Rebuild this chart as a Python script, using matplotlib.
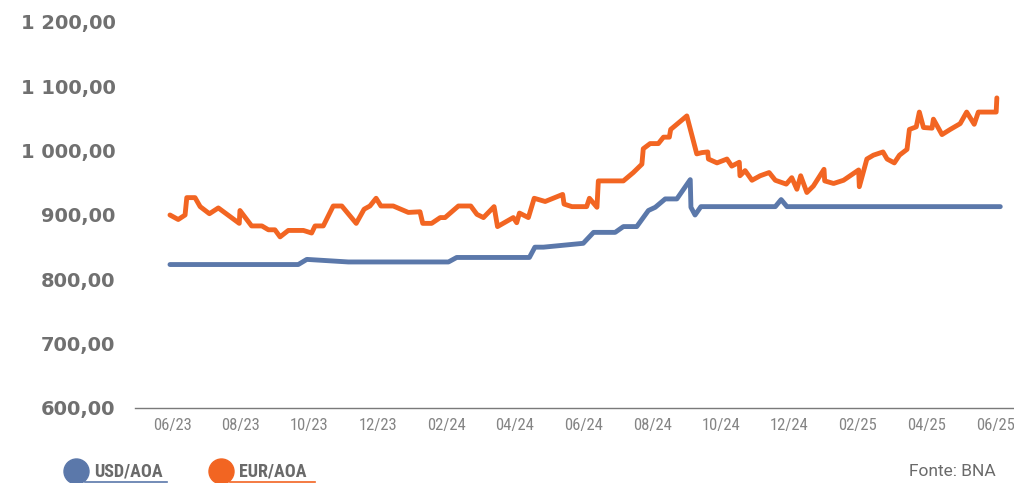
import matplotlib
matplotlib.use("Agg")
import matplotlib.pyplot as plt
from matplotlib.lines import Line2D
from matplotlib.ticker import FuncFormatter
from matplotlib import font_manager

# months since 06/2023
usd_x = [-0.06, 3.68, 3.93, 5.14, 8.06, 8.30, 10.42, 10.58, 10.83, 11.99, 12.29, 12.92,
         13.16, 13.55, 13.89, 14.09, 14.38, 14.72, 15.11, 15.13, 15.25, 15.42, 17.59,
         17.76, 17.93, 24.15]
usd_y = [823, 823, 831, 827, 827, 834, 834, 850, 850, 856, 873, 873,
         882, 882, 907, 912, 925, 925, 955, 912, 900, 913, 913,
         924, 913, 913]

eur_x = [-0.06, 0.18, 0.38, 0.43, 0.67, 0.82, 1.09, 1.35, 1.96, 1.98, 2.32, 2.62, 2.81,
         3.00, 3.15, 3.39, 3.83, 4.07, 4.17, 4.41, 4.70, 4.95, 5.37, 5.60, 5.77, 5.95,
         6.09, 6.45, 6.89, 7.23, 7.31, 7.57, 7.82, 7.96, 8.35, 8.71, 8.89, 9.08, 9.39,
         9.49, 9.95, 10.05, 10.13, 10.39, 10.56, 10.88, 11.39, 11.43, 11.66, 12.09, 12.17,
         12.39, 12.43, 13.16, 13.45, 13.70, 13.74, 13.94, 14.18, 14.33, 14.50, 14.54,
         15.01, 15.30, 15.45, 15.62, 15.64, 15.89, 16.18, 16.32, 16.54, 16.56, 16.71,
         16.91, 17.15, 17.41, 17.59, 17.91, 18.07, 18.22, 18.33, 18.51, 18.70, 19.01,
         19.03, 19.29, 19.58, 20.02, 20.04, 20.26, 20.45, 20.73, 20.85, 21.06, 21.21,
         21.43, 21.50, 21.70, 21.79, 21.91, 22.16, 22.20, 22.45, 22.69, 22.98, 23.17,
         23.39, 23.51, 24.03, 24.05]
eur_y = [900, 893, 900, 927, 927, 913, 902, 911, 887, 907, 883, 883, 877,
         877, 866, 876, 876, 872, 883, 883, 914, 914, 887, 909, 914, 926,
         914, 914, 904, 905, 887, 887, 896, 896, 914, 914, 901, 896, 913,
         882, 896, 888, 903, 896, 926, 921, 932, 917, 913, 913, 926,
         912, 953, 953, 966, 979, 1003, 1011, 1011, 1021, 1021, 1033,
         1054, 995, 997, 998, 987, 981, 987, 976, 982, 961, 969,
         954, 961, 966, 954, 948, 958, 940, 961, 935, 945, 971,
         953, 949, 954, 970, 944, 987, 993, 998, 987, 981, 993,
         1002, 1033, 1037, 1060, 1036, 1035, 1049, 1025, 1033, 1042, 1060,
         1041, 1060, 1060, 1082]

tick_pos = list(range(0, 25, 2))
tick_labels = ["06/23", "08/23", "10/23", "12/23", "02/24", "04/24", "06/24",
               "08/24", "10/24", "12/24", "02/25", "04/25", "06/25"]

blue = "#5b78aa"
orange = "#f26522"
gray = "#707070"

# pick a narrow face if one is around
names = {f.name for f in font_manager.fontManager.ttflist}
narrow = None
for cand in ["Liberation Sans Narrow", "DejaVu Sans Condensed", "Roboto Condensed", "Open Sans Condensed"]:
    if cand in names:
        narrow = cand
        break
narrow_fam = [narrow, "DejaVu Sans"] if narrow else ["DejaVu Sans"]
print(narrow)

fig = plt.figure(figsize=(10.14, 4.83), dpi=100)
ax = fig.add_axes([135 / 1014, 75 / 483, 1 - 135 / 1014, (408 - 22) / 483])

ax.plot(usd_x, usd_y, color=blue, lw=3.5, solid_capstyle="round", solid_joinstyle="round")
ax.plot(eur_x, eur_y, color=orange, lw=3.5, solid_capstyle="round", solid_joinstyle="round")

ax.set_ylim(600, 1200)
ax.set_xlim(-1.08, 24.55)
ax.set_yticks(range(600, 1201, 100))
ax.yaxis.set_major_formatter(FuncFormatter(
    lambda v, p: f"{v:,.2f}".replace(",", " ").replace(".", ",")))
ax.set_xticks(tick_pos)
ax.set_xticklabels(tick_labels, family=narrow_fam, fontsize=12, color="#858585",
                   fontstretch="condensed")

for lab in ax.get_yticklabels():
    lab.set_fontweight("bold")
    lab.set_fontsize(14)
    lab.set_color(gray)
ax.tick_params(axis="y", length=0, pad=14)
ax.tick_params(axis="x", length=0, pad=7)

for s in ["top", "right", "left"]:
    ax.spines[s].set_visible(False)
ax.spines["bottom"].set_color("#7a7a7a")
ax.spines["bottom"].set_linewidth(1.0)

# legend
def fx(px):
    return px / 1014

def fy(py):
    return 1 - py / 483

for cx, x0, x1, col, name in [(76, 85, 167, blue, "USD/AOA"), (221, 230, 315, orange, "EUR/AOA")]:
    fig.add_artist(Line2D([fx(x0), fx(x1)], [fy(482), fy(482)], color=col, lw=1.2,
                          transform=fig.transFigure))
    fig.add_artist(Line2D([fx(cx)], [fy(471)], marker="o", markersize=18, color=col,
                          transform=fig.transFigure))
    fig.text(fx(cx + 18), fy(472), name, family=narrow_fam, fontweight="bold", fontsize=13,
             color="#6a6a6a", va="center", ha="left", fontstretch="condensed")

fig.text(fx(996), fy(472), "Fonte: BNA", family=["Roboto", "DejaVu Sans"], fontsize=12.5,
         color="#6a6a6a", va="center", ha="right")

fig.savefig("out.png", dpi=100)
